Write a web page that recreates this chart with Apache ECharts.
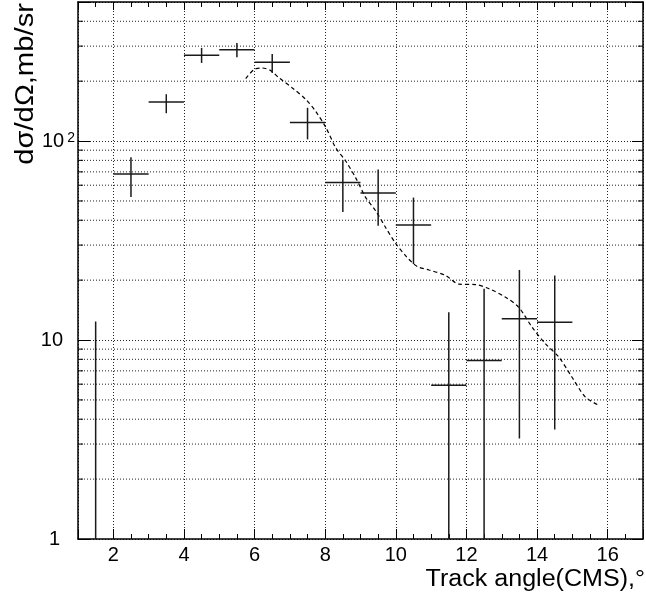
<!DOCTYPE html>
<html>
<head>
<meta charset="utf-8">
<script src="https://cdn.jsdelivr.net/npm/echarts@6/dist/echarts.min.js"></script>
<style>html,body{margin:0;padding:0;background:#fff;}#c{width:646px;height:599px;}</style>
</head>
<body>
<div id="c"></div>
<script>
const xRange = [1, 17];
const yRange = [1, 500];
const binCenters = [1.5, 2.5, 3.5, 4.5, 5.5, 6.5, 7.5, 8.5, 9.5, 10.5, 11.5, 12.5, 13.5, 14.5];
const binHalfWidth = 0.5;
const yValues = [0.3, 68.4, 157, 270, 288, 249, 124, 62, 54.9, 37.9, 5.93, 7.89, 12.8, 12.3];
const yErrLow = [0.01, 52.4, 138, 247, 264, 220, 102, 44, 37.5, 24.1, 0.01, 0.01, 3.2, 3.55];
const yErrHigh = [12.4, 83, 172, 294, 311, 274, 147, 80, 72, 52, 13.8, 18.1, 22.5, 21.1];
const curveX = [5.75, 5.99, 6.22, 6.46, 6.69, 7.07, 7.45, 7.73, 8.02, 8.30, 8.58, 8.86, 9.15, 9.43, 9.71, 10.0, 10.28, 10.51, 10.65, 10.94, 11.41, 11.79, 12.26, 12.64, 13.11, 13.48, 13.86, 14.24, 14.62, 14.99, 15.37, 15.75];
const curveY = [206, 229, 233, 226, 208, 185, 162, 141, 117, 92.5, 79.4, 65.5, 52, 44.6, 36.8, 30.5, 26.5, 24.1, 23.2, 22.5, 21.1, 19.1, 19.0, 18.1, 16.4, 14.6, 11.6, 9.57, 8.2, 6.5, 5.17, 4.7];
const minorGridValues = [2, 3, 4, 5, 6, 7, 8, 9, 20, 30, 40, 50, 60, 70, 80, 90, 200, 300, 400];
const xTitle = 'Track angle(CMS),°';
const yTitle = 'dσ/dΩ,mb/sr';

const FONT = 'Liberation Sans, Arial, sans-serif';
const INK = '#000';

const barData = binCenters.map((x, i) => [x, yValues[i], yErrLow[i], yErrHigh[i]]);
const curveData = curveX.map((x, i) => [x, curveY[i]]);
const minorData = minorGridValues.map(v => [xRange[0], v]);

const chart = echarts.init(document.getElementById('c'), null, {renderer: 'canvas'});

const xCommon = {
  type: 'value', min: xRange[0], max: xRange[1], splitNumber: 8,
  axisLine: {show: true, onZero: false, lineStyle: {color: INK, width: 1.5}},
  axisTick: {show: true, inside: true, length: 10, lineStyle: {color: INK, width: 1}},
  minorTick: {show: true, splitNumber: 4, length: 5, lineStyle: {color: INK, width: 1}}
};

const option = {
  animation: false,
  backgroundColor: '#fff',
  grid: {left: 78, right: 1, top: 2, bottom: 60, containLabel: false},
  xAxis: [
    Object.assign({}, xCommon, {
      position: 'bottom',
      axisLabel: {
        show: true, margin: 6, color: INK, fontSize: 20, fontFamily: FONT,
        formatter: v => (v === xRange[0] || v === xRange[1]) ? '' : String(v)
      },
      splitLine: {show: true, lineStyle: {color: '#222', type: [1, 2], width: 1}}
    }),
    Object.assign({}, xCommon, {
      position: 'top',
      axisLabel: {show: false},
      splitLine: {show: false},
      axisTick: {show: true, inside: true, length: 8, lineStyle: {color: INK, width: 1}}
    })
  ],
  yAxis: [
    {
      type: 'log', logBase: 10, min: yRange[0], max: yRange[1], position: 'left',
      axisLine: {show: true, onZero: false, lineStyle: {color: INK, width: 1.5}},
      axisTick: {show: true, inside: true, length: 12, lineStyle: {color: INK, width: 1}},
      axisLabel: {
        show: true, margin: 3, color: INK, fontSize: 20, fontFamily: FONT,
        formatter: v => {
          if (Math.abs(v - 1) < 1e-9) return '{one|1}';
          if (Math.abs(v - 10) < 1e-9) return '{ten|10}';
          if (Math.abs(v - 100) < 1e-9) return '{b|10}{s|2}';
          return '';
        },
        rich: {
          one: {fontSize: 20, fontFamily: FONT, color: INK, lineHeight: 20, padding: [0, 15, 0, 0]},
          ten: {fontSize: 20, fontFamily: FONT, color: INK, lineHeight: 20, padding: [0, 12, 0, 0]},
          b: {fontSize: 20, fontFamily: FONT, color: INK, lineHeight: 20},
          s: {fontSize: 14, fontFamily: FONT, color: INK, verticalAlign: 'top', lineHeight: 14, padding: [0, 0, 0, 3]}
        }
      },
      splitLine: {show: true, lineStyle: {color: '#222', type: [1, 2], width: 1}}
    },
    {
      type: 'log', logBase: 10, min: yRange[0], max: yRange[1], position: 'right',
      axisLine: {show: true, onZero: false, lineStyle: {color: INK, width: 1.5}},
      axisTick: {show: true, inside: true, length: 11, lineStyle: {color: INK, width: 1}},
      axisLabel: {show: false},
      splitLine: {show: false}
    }
  ],
  series: [
    {
      type: 'custom', name: 'minorGrid', xAxisIndex: 0, yAxisIndex: 0, silent: true, z: 1,
      encode: {x: 0, y: 1},
      data: minorData,
      renderItem: function (params, api) {
        const v = api.value(1);
        const p1 = api.coord([xRange[0], v]);
        const p2 = api.coord([xRange[1], v]);
        return {
          type: 'group',
          children: [
            {type: 'line', shape: {x1: p1[0], y1: p1[1], x2: p2[0], y2: p2[1]},
              style: {stroke: '#222', lineWidth: 1, lineDash: [1, 2]}},
            {type: 'line', shape: {x1: p1[0], y1: p1[1], x2: p1[0] + 5, y2: p1[1]},
              style: {stroke: INK, lineWidth: 1}},
            {type: 'line', shape: {x1: p2[0] - 5, y1: p2[1], x2: p2[0], y2: p2[1]},
              style: {stroke: INK, lineWidth: 1}}
          ]
        };
      }
    },
    {
      type: 'line', name: 'model', xAxisIndex: 0, yAxisIndex: 0, data: curveData,
      smooth: 0.3, showSymbol: false, symbol: 'none', z: 3,
      lineStyle: {color: INK, width: 1.2, type: [4, 3]}
    },
    {
      type: 'custom', name: 'data', xAxisIndex: 0, yAxisIndex: 0, clip: true, z: 4,
      encode: {x: 0, y: 1},
      data: barData,
      renderItem: function (params, api) {
        const x = api.value(0), y = api.value(1), lo = api.value(2), hi = api.value(3);
        const l = api.coord([x - binHalfWidth, y]);
        const r = api.coord([x + binHalfWidth, y]);
        const b = api.coord([x, lo]);
        const t = api.coord([x, hi]);
        const st = {stroke: '#1a1a1a', lineWidth: 1.5};
        return {
          type: 'group',
          children: [
            {type: 'line', shape: {x1: l[0], y1: l[1], x2: r[0], y2: r[1]}, style: st},
            {type: 'line', shape: {x1: b[0], y1: b[1], x2: t[0], y2: t[1]}, style: st}
          ]
        };
      }
    }
  ],
  graphic: [
    {
      type: 'text', x: 645, y: 580, z: 10, scaleX: 1.09,
      style: {text: xTitle, font: '23px ' + FONT, fill: INK, align: 'right', verticalAlign: 'middle', textAlign: 'right', textVerticalAlign: 'middle'}
    },
    {
      type: 'text', x: 26, y: 3, rotation: Math.PI / 2, z: 10, scaleX: 1.17,
      style: {text: yTitle, font: '25px ' + FONT, fill: INK, align: 'right', verticalAlign: 'middle', textAlign: 'right', textVerticalAlign: 'middle'}
    }
  ]
};

chart.setOption(option);
</script>
</body>
</html>
